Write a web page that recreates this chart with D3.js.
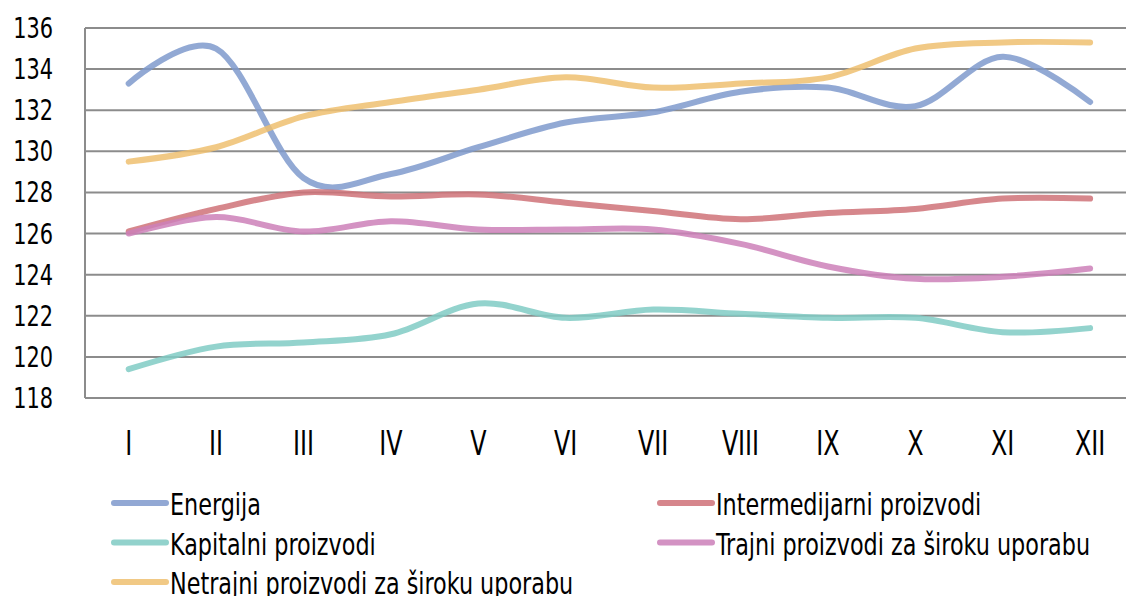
<!DOCTYPE html>
<html>
<head>
<meta charset="utf-8">
<script src="https://cdn.jsdelivr.net/npm/d3@7"></script>
<style>
  body { margin: 0; background: #fff; }
  svg text { font-family: "Liberation Sans Narrow", "DejaVu Sans Condensed", sans-serif; fill: #000; }
</style>
</head>
<body>
<div id="chart"></div>
<script>
// months
const months = ['I', 'II', 'III', 'IV', 'V', 'VI', 'VII', 'VIII', 'IX', 'X', 'XI', 'XII'];
const yTicks = [118, 120, 122, 124, 126, 128, 130, 132, 134, 136];

const energija = [133.3, 135.0, 128.7, 128.9, 130.2, 131.4, 131.9, 132.9, 133.1, 132.2, 134.6, 132.4];
const intermedijarni = [126.1, 127.2, 128.0, 127.8, 127.9, 127.5, 127.1, 126.7, 127.0, 127.2, 127.7, 127.7];
const kapitalni = [119.4, 120.5, 120.7, 121.1, 122.6, 121.9, 122.3, 122.1, 121.9, 121.9, 121.2, 121.4];
const trajni = [126.0, 126.8, 126.1, 126.6, 126.2, 126.2, 126.2, 125.5, 124.4, 123.8, 123.9, 124.3];
const netrajni = [129.5, 130.2, 131.7, 132.4, 133.0, 133.6, 133.1, 133.3, 133.6, 135.0, 135.3, 135.3];

const series = [
  { name: 'Energija', values: energija, color: '#7f9acd', col: 0, row: 0 },
  { name: 'Intermedijarni proizvodi', values: intermedijarni, color: '#cf7278', col: 1, row: 0 },
  { name: 'Kapitalni proizvodi', values: kapitalni, color: '#80cbc4', col: 0, row: 1 },
  { name: 'Trajni proizvodi za široku uporabu', values: trajni, color: '#cc80b9', col: 1, row: 1 },
  { name: 'Netrajni proizvodi za široku uporabu', values: netrajni, color: '#efc070', col: 0, row: 2 }
];

const W = 1126, H = 596;
const svg = d3.select('#chart').append('svg').attr('width', W).attr('height', H);

const x = d3.scaleBand().domain(months).range([85, 85 + 12 * 87.4]);
const y = d3.scaleLinear().domain([118, 136]).range([398, 28]);

// gridlines
svg.append('g').selectAll('line').data(yTicks).join('line')
  .attr('x1', 85).attr('x2', W).attr('y1', d => y(d)).attr('y2', d => y(d))
  .attr('stroke', '#8c8c8c').attr('stroke-width', 2);
svg.append('line').attr('x1', 85).attr('x2', 85).attr('y1', y(136)).attr('y2', y(118))
  .attr('stroke', '#8c8c8c').attr('stroke-width', 2);

// condensed text helper
const narrow = (sel, tx, ty) => sel.attr('transform', `translate(${tx},${ty}) scale(0.8,1)`);

// y labels
svg.append('g').selectAll('text').data(yTicks).join('text')
  .each(function (d) { narrow(d3.select(this), 53, y(d) + 10); })
  .attr('text-anchor', 'end').style('font-size', '29px').text(d => d);

// x labels
svg.append('g').selectAll('text').data(months).join('text')
  .each(function (d) { narrow(d3.select(this), x(d) + x.bandwidth() / 2, 455); })
  .attr('text-anchor', 'middle').style('font-size', '33px').text(d => d);

const line = d3.line()
  .x((d, i) => x(months[i]) + x.bandwidth() / 2)
  .y(d => y(d))
  .curve(d3.curveCardinal.tension(0));

series.forEach(s => {
  svg.append('path').datum(s.values).attr('d', line)
    .attr('fill', 'none').attr('stroke', s.color).attr('stroke-width', 6)
    .attr('stroke-linecap', 'round').attr('opacity', 0.85);
});

// legend
const lg = svg.append('g');
series.forEach(s => {
  const lx = s.col === 0 ? 114 : 660;
  const ly = 503 + s.row * 39.5;
  lg.append('line').attr('x1', lx).attr('x2', lx + 52).attr('y1', ly).attr('y2', ly)
    .attr('stroke', s.color).attr('stroke-width', 6).attr('stroke-linecap', 'round').attr('opacity', 0.85);
  narrow(lg.append('text'), lx + 56, ly + 12).style('font-size', '31px').text(s.name);
});
</script>
</body>
</html>
